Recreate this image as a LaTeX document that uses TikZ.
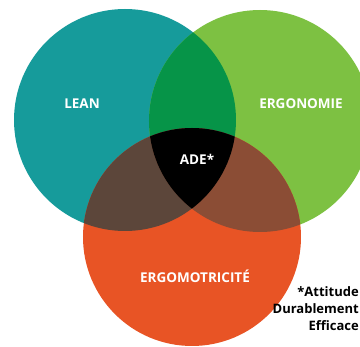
\documentclass[tikz,border=0pt]{standalone}
\usepackage{fontspec}
\setmainfont{Open Sans}
\usetikzlibrary{positioning}
\definecolor{vnteal}{RGB}{22,155,155}
\definecolor{vngreen}{RGB}{125,193,66}
\definecolor{vnorange}{RGB}{232,84,37}
\definecolor{vndkgreen}{RGB}{6,148,72}
\definecolor{vnbrownl}{RGB}{92,70,58}
\definecolor{vnbrownr}{RGB}{139,77,53}
\tikzset{
  setlabel/.style={font=\bfseries\fontsize{13.5}{16}\selectfont, text=white, anchor=base, inner sep=0pt},
  notelabel/.style={font=\bfseries\fontsize{13}{17}\selectfont, text=black, align=right, anchor=base east, inner sep=0pt}
}
\def\leanc{(125,120) circle (111pt)}
\def\ergoc{(260,121) circle (111pt)}
\def\motric{(192,237) circle (109pt)}

\begin{document}
\begin{tikzpicture}[x=1pt,y=-1pt]
\useasboundingbox (0,0) rectangle (360,347);
\clip (0,0) rectangle (360,347);
% -- The three sets --
\fill[vnteal] \leanc;
\fill[vngreen] \ergoc;
\fill[vnorange] \motric;
% -- Pairwise overlaps --
\begin{scope}
  \clip \leanc;
  \fill[vndkgreen] \ergoc;
  \fill[vnbrownl] \motric;
\end{scope}
\begin{scope}
  \clip \ergoc;
  \fill[vnbrownr] \motric;
\end{scope}
% -- Centre: all three --
\begin{scope}
  \clip \leanc;
  \clip \ergoc;
  \fill[black] \motric;
\end{scope}
% -- Labels --
\node[setlabel] (lean) at (82,109) {LEAN};
\node[setlabel] (ergo) at (301,109) {ERGONOMIE};
\node[setlabel] (ade) at (197,165) {ADE*};
\node[setlabel] (motri) at (195,283) {ERGOMOTRICITÉ};
\node[notelabel] (note) at (359,331) {*Attitude\\Durablement\\Efficace};
\end{tikzpicture}
\end{document}
